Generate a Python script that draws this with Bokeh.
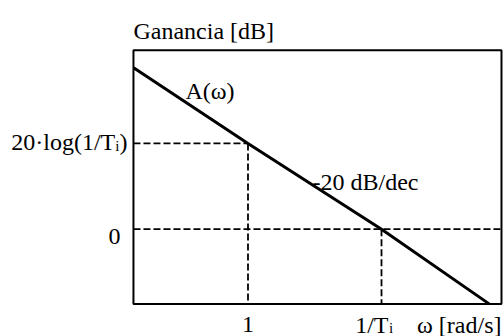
from bokeh.plotting import figure
from bokeh.models import Label, Range1d
from bokeh.embed import file_html
from bokeh.resources import INLINE

# Asymptotic magnitude of an integrator: -20 dB/dec, crossing 0 dB at 1/Ti
omega = [0.139, 1.0, 10.0, 64.0]
gain_db = [37.6, 20.0, 0.0, -17.4]

# Reference points marked with dashed guides
w_one = 1.0
w_ti = 10.0
g_ti = 20.0
g_zero = 0.0

# extent of the boxed plotting area
x_min, x_max = 0.1387, 79.2
y_min, y_max = -17.4, 41.7

FONT = "Liberation Serif"
SIZE = "24px"
SUB = "15px"

# the canvas spans a little more than the box so that labels fit around it
p = figure(width=503, height=336, x_axis_type="log",
           x_range=Range1d(0.0140, 82.0), y_range=Range1d(-25.0, 53.3),
           output_backend="svg", toolbar_location=None,
           min_border=0)
p.xaxis.visible = False
p.yaxis.visible = False
p.xgrid.visible = False
p.ygrid.visible = False
p.outline_line_color = None
p.background_fill_color = "white"
p.border_fill_color = "white"

dash = dict(line_color="black", line_width=1.8, line_dash="7 3")
# guides at 20*log(1/Ti) and at 0 dB
p.line([x_min, w_one], [g_ti, g_ti], **dash)
p.line([w_one, w_one], [g_ti, y_min], **dash)
p.line([x_min, x_max], [g_zero, g_zero], **dash)
p.line([w_ti, w_ti], [g_zero, y_min], **dash)

# magnitude asymptote
p.line(omega, gain_db, line_color="black", line_width=3)

# box around the plotting area
p.quad(left=[x_min], right=[x_max], bottom=[y_min], top=[y_max],
       fill_color=None, line_color="black", line_width=2)


def lab(x, y, text, align="left", dx=0, dy=0, size=SIZE):
    p.add_layout(Label(x=x, y=y, text=text, x_offset=dx, y_offset=dy,
                       text_align=align, text_baseline="alphabetic",
                       text_font=FONT, text_font_size=size,
                       text_color="black"))


# axis titles
lab(x_min, y_max, "Ganancia [dB]", dy=19)
lab(x_max, y_min, "ω [rad/s]", align="right", dy=-21)

# y labels
lab(x_min, g_ti, ")", align="right", dx=-6, dy=1)
lab(x_min, g_ti, "i", align="right", dx=-14, dy=-3, size=SUB)
lab(x_min, g_ti, "20·log(1/T", align="right", dx=-18.2, dy=1)
lab(x_min, g_zero, "0", align="right", dx=-13, dy=-7)

# x labels
lab(w_one, y_min, "1", align="center", dy=-21)
lab(w_ti, y_min, "1/T", align="right", dx=7, dy=-21)
lab(w_ti, y_min, "i", align="left", dx=7.5, dy=-24.5, size=SUB)

# curve annotations
lab(0.340, 32.3, "A(ω)")
lab(3.04, 10.9, "-20 dB/dec")

open("out.html", "w").write(file_html(p, INLINE))
